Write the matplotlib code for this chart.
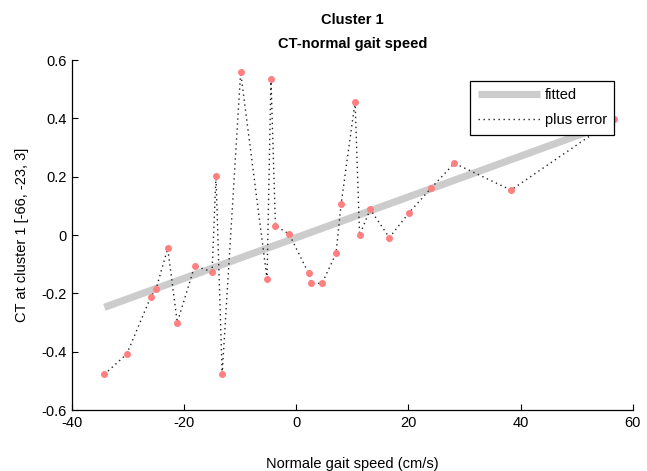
import matplotlib
matplotlib.use("Agg")
import matplotlib.pyplot as plt
import numpy as np

plt.rcParams['font.family'] = ['Liberation Sans', 'DejaVu Sans']

speed = [-34.2, -30.2, -25.9, -25.0, -22.9, -21.2, -18.1, -15.0, -14.3, -13.2,
         -9.9, -5.2, -4.5, -3.7, -1.25, 2.2, 2.7, 4.6, 7.1, 8.0,
         10.5, 11.3, 13.2, 16.6, 20.1, 24.1, 28.2, 38.3, 56.7]
ct = [-0.478, -0.408, -0.211, -0.186, -0.046, -0.300, -0.106, -0.126, 0.202, -0.477,
      0.558, -0.151, 0.535, 0.032, 0.003, -0.131, -0.166, -0.166, -0.063, 0.105,
      0.457, 0.000, 0.088, -0.009, 0.076, 0.162, 0.246, 0.154, 0.397]
fit_x = [-34.2, 56.7]
fit_y = [-0.248, 0.387]

xticks = [-40, -20, 0, 20, 40, 60]
yticks = [-0.6, -0.4, -0.2, 0, 0.2, 0.4, 0.6]

fig = plt.figure(figsize=(6.47, 4.71), dpi=100)
ax = fig.add_axes([0.111, 0.1295, 0.867, 0.7431])

ax.plot(fit_x, fit_y, color='#cccccc', lw=5.2, solid_capstyle='butt', label='fitted', zorder=2)
ax.plot(speed, ct, color='#222222', ls=(0, (1, 2.6)), lw=1.0, label='plus error', zorder=3)
ax.plot(speed, ct, ls='none', marker='o', ms=4, color='#ff8080', mec='#ff8080', zorder=4)

ax.set_xlim(-40, 60)
ax.set_ylim(-0.6, 0.6)
ax.set_xticks(xticks)
ax.set_xticklabels([str(t) for t in xticks])
ax.set_yticks(yticks)
ax.set_yticklabels(['-0.6', '-0.4', '-0.2', '0', '0.2', '0.4', '0.6'])
ax.tick_params(direction='in', length=4, width=0.8, labelsize=10.5, pad=4)
for s in ['top', 'right']:
    ax.spines[s].set_visible(False)
for s in ['left', 'bottom']:
    ax.spines[s].set_linewidth(0.9)

ax.set_title('Cluster 1\nCT-normal gait speed', fontsize=10.5, fontweight='bold', pad=9, linespacing=1.85)
ax.set_ylabel('CT at cluster 1 [-66, -23, 3]', fontsize=10.5, labelpad=9)
ax.set_xlabel('Normale gait speed (cm/s)', fontsize=10.5, labelpad=20)

leg = ax.legend(loc='upper right', bbox_to_anchor=(0.967, 0.94), fontsize=10.5, frameon=True,
                fancybox=False, edgecolor='black', framealpha=1, borderpad=0.5,
                handlelength=4.3, handletextpad=0.3, labelspacing=0.75, borderaxespad=0)
leg.get_frame().set_linewidth(0.9)

fig.savefig('out.png', dpi=100)
